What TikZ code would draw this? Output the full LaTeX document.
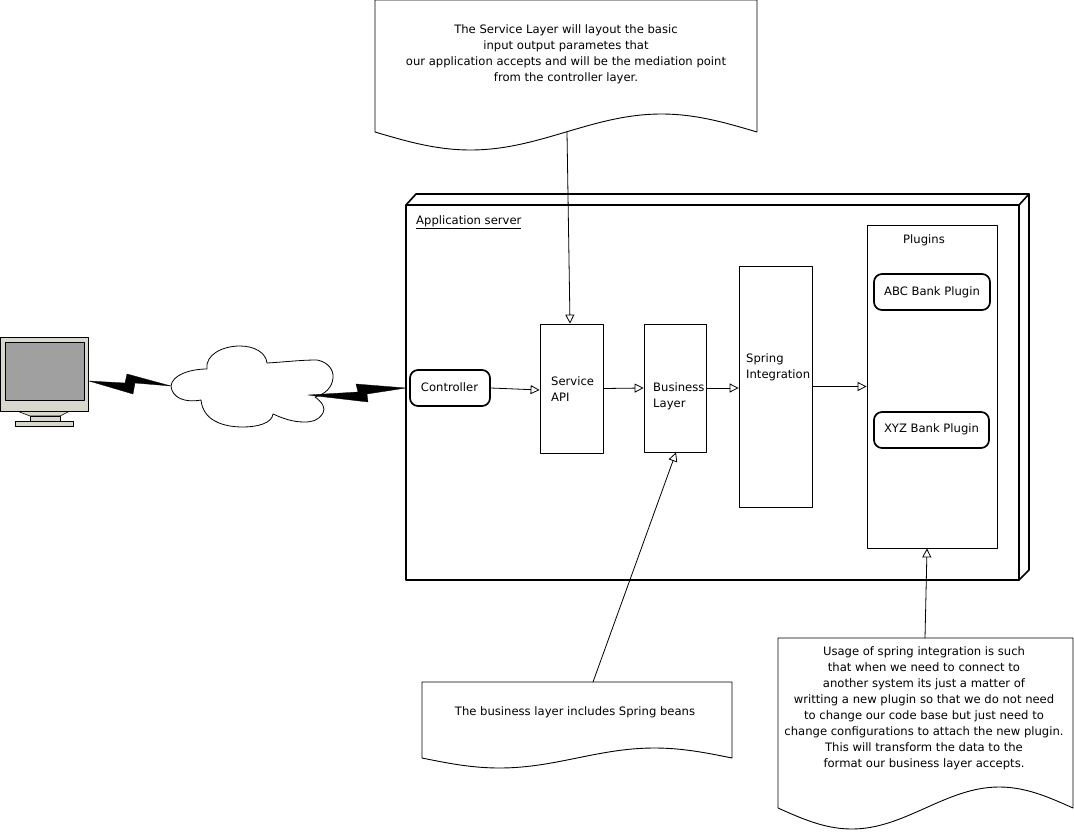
\documentclass[tikz,border=0pt]{standalone}
\usepackage{fontspec}
\setmainfont{DejaVu Sans}
\usetikzlibrary{arrows.meta}
\definecolor{monitorframe}{RGB}{216,216,204}
\definecolor{monitorscreen}{RGB}{160,160,160}
\tikzset{
  boxnode/.style={draw,rectangle,inner sep=0pt,line width=0.8pt},
  pillnode/.style={draw,rectangle,rounded corners=8pt,inner sep=0pt,line width=1.7pt},
  txtnode/.style={inner sep=0pt,align=center,font=\fontsize{11.6}{16}\selectfont},
  notepath/.style={line width=0.9pt,fill=white},
  wire/.style={-{Triangle[open,length=9pt,width=9pt]},line width=0.8pt},
  bolt/.style={fill=black,draw=black,line width=0.3pt},
}
\begin{document}
\begin{tikzpicture}[line cap=round,line join=round,x=1pt,y=-1pt]
\useasboundingbox (0,0) rectangle (1074,838);
% monitor
\draw[fill=monitorframe,line width=0.6pt] (17,411)-- (30,416)-- (60,416)-- (70,411)-- cycle;
\draw[fill=monitorframe,line width=0.6pt] (30,416) rectangle (60,421);
\draw[fill=monitorframe,line width=0.6pt] (15,421) rectangle (73,426);
\draw[fill=monitorframe,line width=0.6pt] (0,337) rectangle (88.5,411);
\draw[fill=monitorscreen,line width=0.6pt] (5,342) rectangle (84,400);
% cloud
\draw[line width=0.8pt,fill=white] (171,386) .. controls (172,375) and (190,369) .. (207,369)
  .. controls (205,355) and (222,346) .. (240,346)
  .. controls (255,346) and (266,353) .. (267,363)
  .. controls (285,362) and (300,360) .. (317,360)
  .. controls (328,362) and (334,370) .. (333,378)
  .. controls (332,388) and (325,394) .. (315,397)
  .. controls (322,402) and (326,408) .. (323,413)
  .. controls (318,421) and (312,422) .. (304,422)
  .. controls (292,422) and (282,418) .. (273,414)
  .. controls (272,423) and (258,427) .. (243,427)
  .. controls (222,427) and (203,420) .. (201,400)
  .. controls (185,403) and (172,398) .. (171,386) -- cycle;
% lightning
\draw[bolt] (89,381)-- (125,383)-- (127,374)-- (171,386)-- (135,383)-- (133,394)-- cycle;
\draw[bolt] (308,395)-- (358,392)-- (356,384)-- (406,388)-- (367,394)-- (368,402)-- cycle;
% application server
\draw[line width=1.6pt,fill=white] (406,205)-- (416,194)-- (1029,194)-- (1029,570)-- (1019,580)-- (406,580)-- cycle;
\draw[line width=1.6pt] (406,205)-- (1019,205)-- (1019,580);
\draw[line width=1.6pt] (1019,205)-- (1029,194);
\node[txtnode,anchor=west] (appserverText) at (416,222) {\underline{Application server}};
% boxes
\node[pillnode,minimum width=80pt,minimum height=36pt] (controllerBox) at (450,388) {};
\node[boxnode,minimum width=63pt,minimum height=129pt] (serviceBox) at (571.5,388.5) {};
\node[boxnode,minimum width=62pt,minimum height=128pt] (businessBox) at (675,388) {};
\node[boxnode,minimum width=73pt,minimum height=241pt] (springBox) at (775.5,386.5) {};
\node[boxnode,minimum width=130pt,minimum height=323pt] (pluginsBox) at (932,386.5) {};
\node[pillnode,minimum width=116pt,minimum height=36pt] (abcBox) at (932,292) {};
\node[pillnode,minimum width=115pt,minimum height=36pt] (xyzBox) at (931.5,430) {};
\node[txtnode] (controllerText) at (449.5,387) {Controller};
\node[txtnode,anchor=west,align=left] (serviceText) at (551,389) {Service\\API};
\node[txtnode,anchor=west,align=left] (businessText) at (653,396) {Business\\Layer};
\node[txtnode,anchor=west,align=left] (springText) at (746,367) {Spring\\Integration};
\node[txtnode] (pluginsText) at (924,240) {Plugins};
\node[txtnode] (abcText) at (932,292) {ABC Bank Plugin};
\node[txtnode] (xyzText) at (931.5,429.5) {XYZ Bank Plugin};
% notes
\draw[notepath] (375,132)-- (375,0)-- (757,0)-- (757,132)-- plot[domain=1:0,samples=40,smooth] ({375+382*\x},{132+18*sin(360*\x)});
\draw[notepath] (422,758)-- (422,682)-- (732,682)-- (732,758)-- plot[domain=1:0,samples=40,smooth] ({422+310*\x},{758+10*sin(360*\x)});
\draw[notepath] (778,808)-- (778,638)-- (1073,638)-- (1073,808)-- plot[domain=1:0,samples=40,smooth] ({778+295*\x},{808+21*sin(360*\x)});
\coordinate (serviceNote) at (567,132);
\coordinate (businessNote) at (593,682);
\coordinate (pluginNote) at (925,638);
\node[txtnode] (serviceNoteText) at (566,54.5) {The Service Layer will layout the basic\\input output parametes that\\our application accepts and will be the mediation point\\from the controller layer.};
\node[txtnode] (businessNoteText) at (575,712) {The business layer includes Spring beans};
\node[txtnode] (pluginNoteText) at (924,708.5) {Usage of spring integration is such\\that when we need to connect to\\another system its just a matter of\\writting a new plugin so that we do not need\\to change our code base but just need to\\change configurations to attach the new plugin.\\This will transform the data to the\\format our business layer accepts.};
% connectors
\draw[wire] (controllerBox.east)-- ([yshift=-1.5pt]serviceBox.west);
\draw[wire] (serviceBox.east)-- (businessBox.west);
\draw[wire] (businessBox.east)-- (springBox.west |- businessBox.east);
\draw[wire] (springBox.east)-- (pluginsBox.west);
\draw[wire] (serviceNote)-- ([xshift=-1.5pt]serviceBox.north);
\draw[wire] (businessNote)-- ([xshift=1pt]businessBox.south);
\draw[wire] (pluginNote)-- ([xshift=-5pt]pluginsBox.south);
\end{tikzpicture}
\end{document}
